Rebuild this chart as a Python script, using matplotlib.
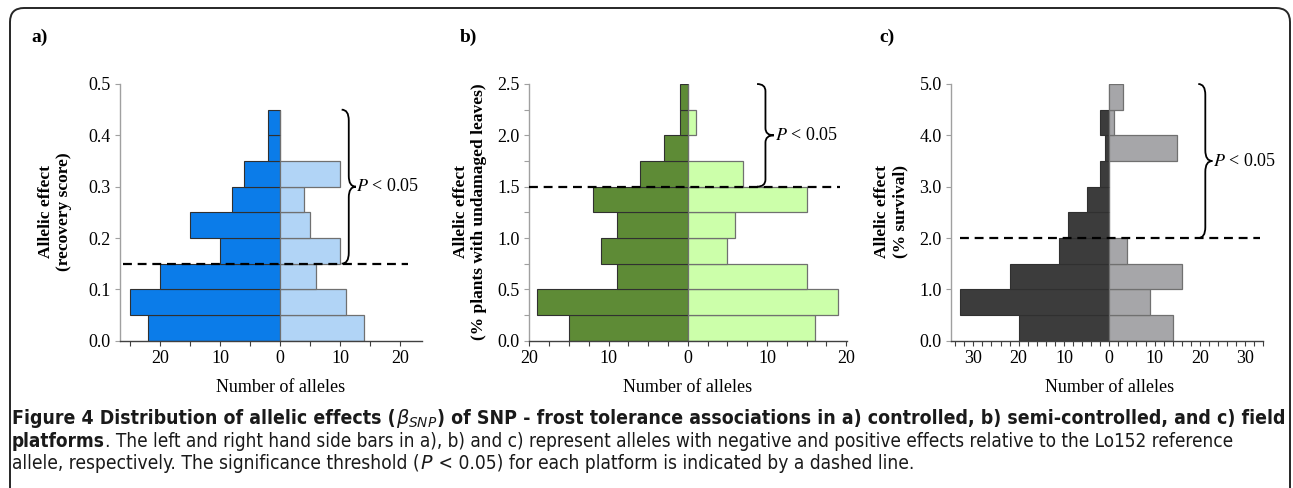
import matplotlib
matplotlib.use("Agg")
import matplotlib.pyplot as plt
import matplotlib.transforms as mtransforms
from matplotlib import font_manager
from matplotlib.font_manager import FontProperties
from matplotlib.patches import FancyBboxPatch, PathPatch
from matplotlib.path import Path
from matplotlib.ticker import FuncFormatter, MultipleLocator

W, H = 1293, 488

# a) controlled platform, recovery score, bins of 0.05
a_bins = [0.00, 0.05, 0.10, 0.15, 0.20, 0.25, 0.30, 0.35, 0.40]
a_neg = [22, 25, 20, 10, 15, 8, 6, 2, 2]
a_pos = [14, 11, 6, 10, 5, 4, 10, 0, 0]
a_thr = 0.15

# b) semi-controlled platform, % plants with undamaged leaves, bins of 0.25
b_bins = [0.00, 0.25, 0.50, 0.75, 1.00, 1.25, 1.50, 1.75, 2.00, 2.25]
b_neg = [15, 19, 9, 11, 9, 12, 6, 3, 1, 1]
b_pos = [16, 19, 15, 5, 6, 15, 7, 0, 1, 0]
b_thr = 1.5

# c) field platform, % survival, bins of 0.5
c_bins = [0.0, 0.5, 1.0, 1.5, 2.0, 2.5, 3.0, 3.5, 4.0, 4.5]
c_neg = [20, 33, 22, 11, 9, 5, 2, 1, 2, 0]
c_pos = [14, 9, 16, 4, 0, 0, 0, 15, 1, 3]
c_thr = 2.0

serif = "Liberation Serif"
plt.rcParams["font.family"] = [serif, "DejaVu Serif"]
plt.rcParams["mathtext.fontset"] = "stix"

# caption font: a condensed sans if the system has one
cap_family = ["Liberation Sans", "DejaVu Sans"]
cap_stretch = "normal"
try:
    f = font_manager.findfont(FontProperties(family="DejaVu Sans", stretch="condensed"),
                              fallback_to_default=False)
    if "Condensed" in f:
        cap_family = ["DejaVu Sans"]
        cap_stretch = "condensed"
except ValueError:
    pass


def px_rect(left, top, right, bottom):
    return [left / W, 1 - bottom / H, (right - left) / W, (bottom - top) / H]


def draw_brace(ax, x0, x1, y0, y1):
    trans = mtransforms.blended_transform_factory(ax.transAxes, ax.transData)
    xm = (x0 + x1) / 2
    ym = (y0 + y1) / 2
    r = 0.07 * (y1 - y0)
    verts = [(x0, y1), (xm, y1), (xm, y1 - r), (xm, ym + r),
             (xm, ym), (x1, ym), (xm, ym), (xm, ym - r),
             (xm, y0 + r), (xm, y0), (x0, y0)]
    codes = [Path.MOVETO, Path.CURVE3, Path.CURVE3, Path.LINETO,
             Path.CURVE3, Path.CURVE3, Path.CURVE3, Path.CURVE3,
             Path.LINETO, Path.CURVE3, Path.CURVE3]
    ax.add_patch(PathPatch(Path(verts, codes), fill=False, lw=1.3, ec="black",
                           transform=trans, clip_on=False))
    ax.text(x1 + 0.002, ym, r"$P$ < 0.05", transform=trans, ha="left", va="center",
            fontsize=13, clip_on=False)


def draw_panel(fig, rect, bins, step, neg, pos, c_neg, c_pos, xlim, xminor,
               ymajor, yminor, thr, dash, brace_x, ylabel, ylabel_x, letter, letter_x):
    ax = fig.add_axes(rect)
    ax.barh(bins, [-v for v in neg], height=step, align="edge", color=c_neg,
            edgecolor="#303030", linewidth=0.8)
    ax.barh(bins, pos, height=step, align="edge", color=c_pos,
            edgecolor="#707070", linewidth=0.9)
    ytop = bins[-1] + step
    ax.set_xlim(*xlim)
    ax.set_ylim(0, ymajor * 5)

    for s in ["top", "right"]:
        ax.spines[s].set_visible(False)
    ax.spines["left"].set_color("#a0a0a0")
    ax.spines["bottom"].set_color("#404040")
    ax.spines["left"].set_linewidth(1.0)
    ax.spines["bottom"].set_linewidth(1.0)

    ax.xaxis.set_major_locator(MultipleLocator(10))
    ax.xaxis.set_minor_locator(MultipleLocator(xminor))
    ax.xaxis.set_major_formatter(FuncFormatter(lambda v, p: f"{abs(v):.0f}"))
    ax.yaxis.set_major_locator(MultipleLocator(ymajor))
    if yminor:
        ax.yaxis.set_minor_locator(MultipleLocator(yminor))
    ax.yaxis.set_major_formatter(FuncFormatter(lambda v, p: f"{v:.1f}"))
    ax.tick_params(axis="both", labelsize=13, length=3.5, width=0.8)
    ax.tick_params(axis="x", which="both", colors="#404040", labelcolor="black", pad=3)
    ax.tick_params(axis="x", which="minor", length=3.5, width=0.8)
    ax.tick_params(axis="y", which="both", colors="#a0a0a0", labelcolor="black", pad=3)
    ax.tick_params(axis="y", which="minor", length=3.5, width=0.8)

    # significance threshold
    trans = mtransforms.blended_transform_factory(ax.transAxes, ax.transData)
    ax.plot(dash, [thr, thr], transform=trans, color="black", lw=1.6,
            dashes=(4, 2.6), clip_on=False, zorder=5)
    draw_brace(ax, brace_x[0], brace_x[1], thr, ytop)

    # x label centred on zero
    xt = mtransforms.blended_transform_factory(ax.transData, fig.transFigure)
    ax.text(0, 1 - 388 / H, "Number of alleles", transform=xt, ha="center",
            va="center", fontsize=13)
    fig.text(ylabel_x / W, 1 - 212 / H, ylabel, rotation=90, ha="center",
             va="center", fontsize=12.5, fontweight="bold", multialignment="center")
    fig.text(letter_x / W, 1 - 37 / H, letter, ha="center", va="center",
             fontsize=14, fontweight="bold")
    return ax


fig = plt.figure(figsize=(W / 100, H / 100), dpi=100)

draw_panel(fig, px_rect(120, 84, 422, 340.7), a_bins, 0.05, a_neg, a_pos,
           "#0b7ce9", "#b1d4f6", (-26.7, 23.6), 5, 0.1, None, a_thr,
           (0.01, 0.954), (0.734, 0.781),
           "Allelic effect\n(recovery score)", 55, "a)", 40)
draw_panel(fig, px_rect(529, 84, 846.6, 340.7), b_bins, 0.25, b_neg, b_pos,
           "#5e8b36", "#ccffaa", (-20.05, 20.05), 2.5, 0.5, 0.25, b_thr,
           (0.0, 0.979), (0.718, 0.771),
           "Allelic effect\n(% plants with undamaged leaves)", 470, "b)", 468)
draw_panel(fig, px_rect(950.7, 84, 1263.3, 340.7), c_bins, 0.5, c_neg, c_pos,
           "#3c3c3c", "#a6a6a9", (-35, 34), 2, 1.0, None, c_thr,
           (0.03, 0.99), (0.792, 0.837),
           "Allelic effect\n(% survival)", 891, "c)", 887)

# rounded frame around the figure panel
frame = FancyBboxPatch((10, -40), 1280, 480 + 40, boxstyle="round,pad=0,rounding_size=14",
                       transform=mtransforms.IdentityTransform(), fill=False,
                       ec="#262626", lw=1.4)
fig.add_artist(frame)

# caption, drawn piece by piece so bold / italic runs line up
renderer = fig.canvas.get_renderer()
cap_kw = dict(family=cap_family, fontstretch=cap_stretch,
              math_fontfamily="dejavusans", color="#1a1a1a")


def line_width(pieces, size):
    ts = [fig.text(0, 0, s, fontsize=size, **cap_kw, **kw) for s, kw in pieces]
    w = sum(t.get_window_extent(renderer).width for t in ts)
    for t in ts:
        t.remove()
    return w


def caption_line(y_base, pieces, x_end):
    size = 10.0
    for _ in range(3):
        size *= (x_end - 12) / line_width(pieces, size)
    x = 12
    for s, kw in pieces:
        t = fig.text(x / W, 1 - y_base / H, s, ha="left", va="baseline",
                     fontsize=size, **cap_kw, **kw)
        x += t.get_window_extent(renderer).width


bold = {"fontweight": "bold"}
norm = {}
line1 = [("Figure 4 Distribution of allelic effects (", bold),
         (r"$\beta_{SNP}$", norm),
         (") of SNP - frost tolerance associations in a) controlled, b) semi-controlled, and c) field", bold)]
line2 = [("platforms", bold),
         (". The left and right hand side bars in a), b) and c) represent alleles with negative and positive effects relative to the Lo152 reference", norm)]
line3 = [("allele, respectively. The significance threshold (", norm),
         (r"$P$", norm),
         (" < 0.05) for each platform is indicated by a dashed line.", norm)]

caption_line(424, line1, 1281)
caption_line(447, line2, 1235)
caption_line(469, line3, 916)

fig.savefig("out.png", dpi=100)
